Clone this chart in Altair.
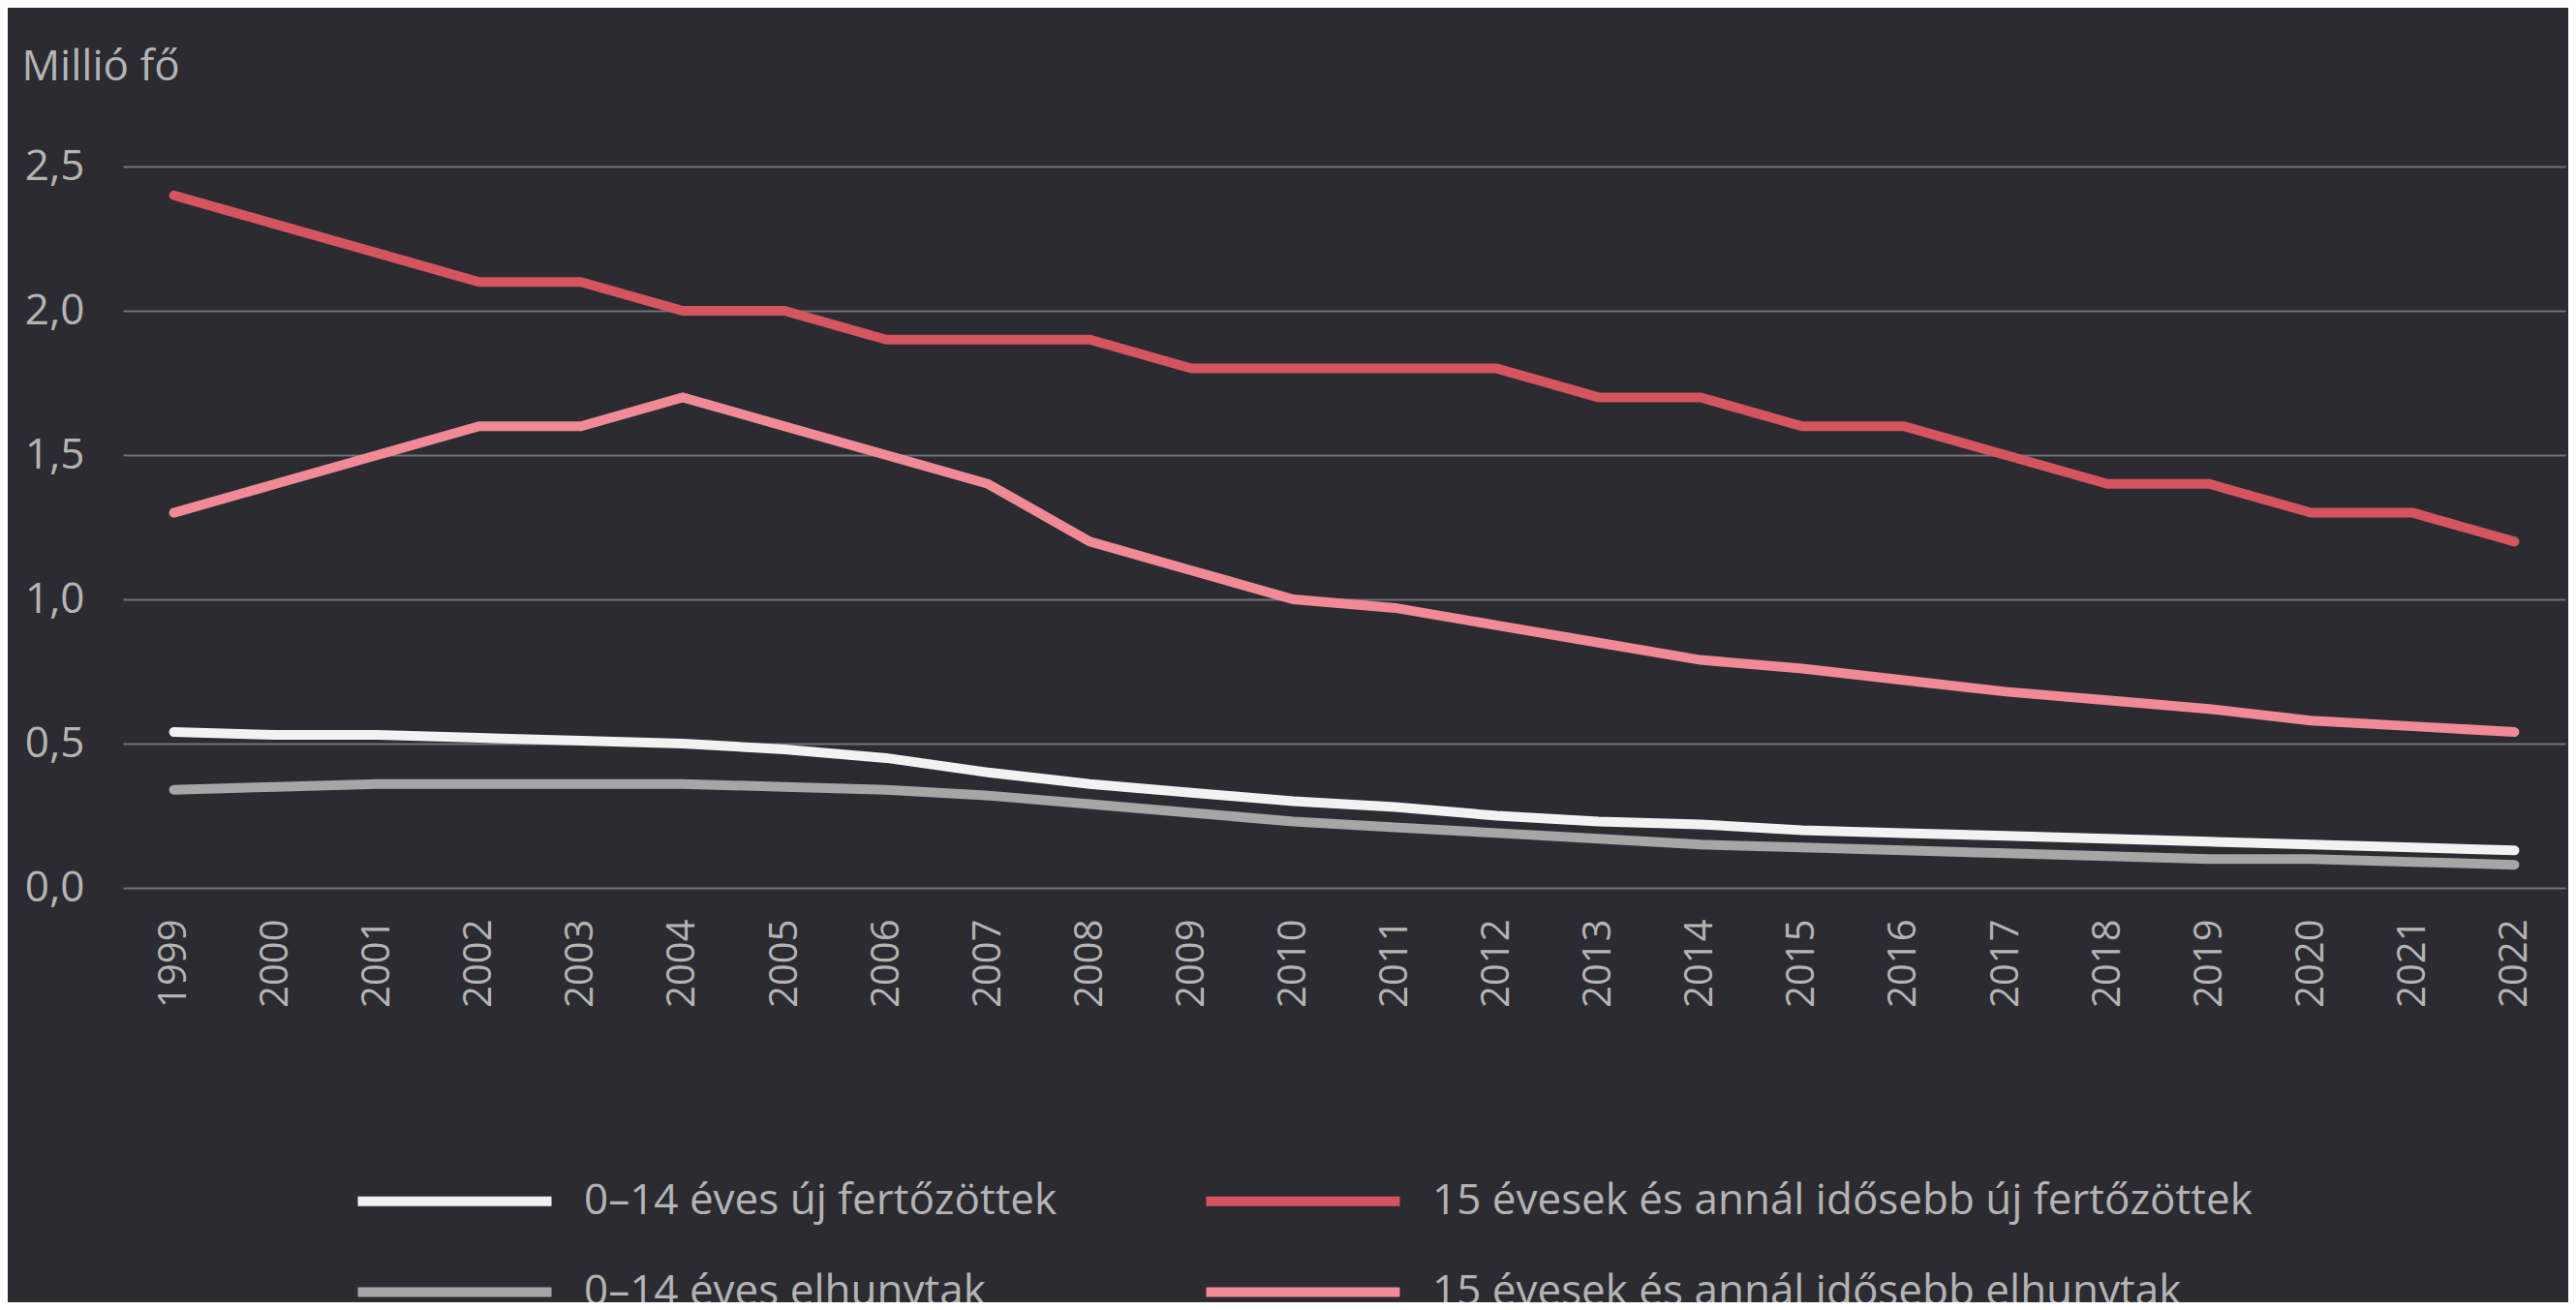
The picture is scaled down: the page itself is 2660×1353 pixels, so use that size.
import altair as alt
import pandas as pd

years = [str(y) for y in range(1999, 2023)]
series_names = [
    "0–14 éves új fertőzöttek",
    "0–14 éves elhunytak",
    "15 évesek és annál idősebb új fertőzöttek",
    "15 évesek és annál idősebb elhunytak",
]
series_colors = ["#f2f2f2", "#a6a6a6", "#d4545f", "#ef8a96"]

new_0_14 = [0.54, 0.53, 0.53, 0.52, 0.51, 0.50, 0.48, 0.45, 0.40, 0.36, 0.33, 0.30,
            0.28, 0.25, 0.23, 0.22, 0.20, 0.19, 0.18, 0.17, 0.16, 0.15, 0.14, 0.13]
deaths_0_14 = [0.34, 0.35, 0.36, 0.36, 0.36, 0.36, 0.35, 0.34, 0.32, 0.29, 0.26, 0.23,
               0.21, 0.19, 0.17, 0.15, 0.14, 0.13, 0.12, 0.11, 0.10, 0.10, 0.09, 0.08]
new_15 = [2.4, 2.3, 2.2, 2.1, 2.1, 2.0, 2.0, 1.9, 1.9, 1.9, 1.8, 1.8,
          1.8, 1.8, 1.7, 1.7, 1.6, 1.6, 1.5, 1.4, 1.4, 1.3, 1.3, 1.2]
deaths_15 = [1.3, 1.4, 1.5, 1.6, 1.6, 1.7, 1.6, 1.5, 1.4, 1.2, 1.1, 1.0,
             0.97, 0.91, 0.85, 0.79, 0.76, 0.72, 0.68, 0.65, 0.62, 0.58, 0.56, 0.54]

y_ticks = [0, 0.5, 1.0, 1.5, 2.0, 2.5]

series_values = {
    series_names[1]: deaths_0_14,
    series_names[0]: new_0_14,
    series_names[3]: deaths_15,
    series_names[2]: new_15,
}
rows = []
for name, vals in series_values.items():
    for y, v in zip(years, vals):
        rows.append({"year": y, "value": v, "series": name})
df = pd.DataFrame(rows)

FONT = "Open Sans"
TXT = "#b4b4b4"
BG = "#2c2b31"

chart = alt.Chart(df).mark_line(strokeWidth=10, strokeCap="round").encode(
    x=alt.X(
        "year:O",
        sort=years,
        scale=alt.Scale(type="point", padding=0.5),
        axis=alt.Axis(
            labelAngle=-90, labelFontSize=40, labelColor=TXT, labelFont=FONT,
            labelPadding=32, ticks=False, domain=False, grid=False, title=None,
        ),
    ),
    y=alt.Y(
        "value:Q",
        scale=alt.Scale(domain=[0, 2.5], nice=False),
        axis=alt.Axis(
            values=y_ticks,
            labelExpr="replace(format(datum.value, '.1f'), '.', ',')",
            labelFontSize=44, labelColor=TXT, labelFont=FONT, labelPadding=40,
            ticks=False, domain=False, grid=True, gridColor="#737377", gridWidth=2,
            title="Millió fő", titleAngle=0, titleAlign="left", titleBaseline="alphabetic",
            titleX=-105, titleY=-90, titleFontSize=44, titleFontWeight="normal",
            titleColor=TXT, titleFont=FONT,
        ),
    ),
    color=alt.Color(
        "series:N",
        scale=alt.Scale(domain=series_names, range=series_colors),
        legend=alt.Legend(
            title=None, orient="none", legendX=304, legendY=1030, columns=2,
            symbolType="M-3,0H3", symbolSize=4444, symbolStrokeWidth=10,
            labelFontSize=44, labelColor=TXT, labelFont=FONT, labelLimit=2000,
            labelOffset=95, columnPadding=133, rowPadding=33, padding=0,
        ),
    ),
).properties(
    width=2522,
    height=745,
    padding={"left": 119, "top": 164, "right": 3, "bottom": 428},
    autosize=alt.AutoSizeParams(type="none"),
    background=BG,
).configure_view(stroke=None)

chart.save("out.html", embed_options={"renderer": "svg", "actions": False})
